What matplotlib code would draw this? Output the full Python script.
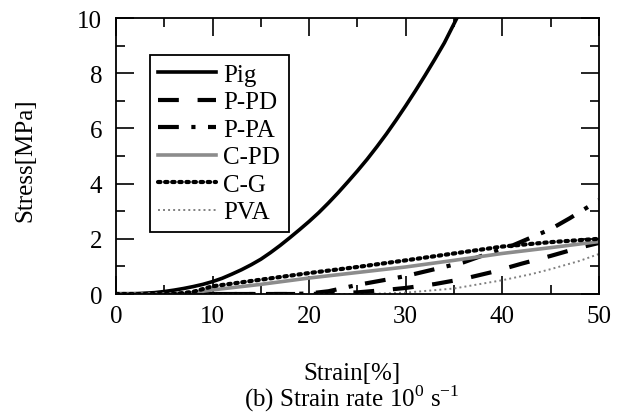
import matplotlib
matplotlib.use("Agg")
import matplotlib.pyplot as plt
from matplotlib.ticker import MultipleLocator

plt.rcParams['font.family'] = ['Liberation Serif', 'DejaVu Serif']
plt.rcParams['mathtext.fontset'] = 'custom'
plt.rcParams['mathtext.rm'] = 'Liberation Serif'

# values (strain %, stress MPa)
pig_x = [0, 2, 4, 5, 6, 7, 8, 9, 10, 11, 12, 13, 14, 15, 16, 17, 18, 19, 20,
         21, 22, 23, 24, 25, 26, 27, 28, 29, 30, 31, 32, 33, 34, 35.3]
pig_y = [0, 0.01, 0.05, 0.09, 0.14, 0.2, 0.27, 0.35, 0.45, 0.57, 0.72, 0.88, 1.06,
         1.26, 1.5, 1.76, 2.04, 2.33, 2.63, 2.95, 3.3, 3.67, 4.06, 4.46, 4.88, 5.33,
         5.8, 6.3, 6.82, 7.36, 7.92, 8.5, 9.1, 10.0]

ppd_x = [0, 20, 22, 25, 28, 30, 33, 36, 39, 42, 45, 48, 50]
ppd_y = [0, 0.0, 0.02, 0.06, 0.15, 0.22, 0.36, 0.55, 0.8, 1.1, 1.38, 1.68, 1.85]

ppa_x = [0, 18, 20, 22, 25, 28, 30, 33, 36, 38, 41, 43, 45, 47, 50]
ppa_y = [0, 0.0, 0.02, 0.1, 0.33, 0.52, 0.65, 0.9, 1.15, 1.4, 1.75, 2.05, 2.35, 2.75, 3.4]

cpd_x = [0, 7, 10, 15, 20, 25, 30, 35, 40, 45, 50]
cpd_y = [0, 0.0, 0.15, 0.35, 0.58, 0.78, 0.98, 1.22, 1.47, 1.68, 1.9]

cg_x = [0, 6, 8, 10, 15, 20, 25, 30, 35, 40, 45, 50]
cg_y = [0, 0.0, 0.08, 0.28, 0.52, 0.76, 0.98, 1.22, 1.47, 1.72, 1.88, 2.0]

pva_x = [0, 26, 30, 35, 38, 40, 43, 45, 48, 50]
pva_y = [0, 0.0, 0.05, 0.2, 0.38, 0.5, 0.72, 0.9, 1.2, 1.45]

fig = plt.figure(figsize=(6.2, 4.14), dpi=100)
ax = fig.add_axes([0.187, 0.2874, 0.779, 0.6667])

ax.plot(pig_x, pig_y, color='black', lw=2.6, label='Pig')
ax.plot(ppd_x, ppd_y, color='black', lw=3.0, linestyle=(0, (5, 4.5)), label='P-PD')
ax.plot(ppa_x, ppa_y, color='black', lw=3.0, linestyle=(0, (5, 3, 1, 3)), label='P-PA')
ax.plot(cpd_x, cpd_y, color='0.55', lw=2.6, label='C-PD')
ax.plot(cg_x, cg_y, color='black', lw=3.0, linestyle=(0, (0.6, 1.1)),
        dash_capstyle='round', label='C-G')
ax.plot(pva_x, pva_y, color='0.5', lw=1.4, linestyle=(0, (1, 1.6)), label='PVA')

ax.set_xlim(0, 50)
ax.set_ylim(0, 10)
ax.xaxis.set_major_locator(MultipleLocator(10))
ax.xaxis.set_minor_locator(MultipleLocator(5))
ax.yaxis.set_major_locator(MultipleLocator(2))
ax.yaxis.set_minor_locator(MultipleLocator(1))
ax.tick_params(which='both', direction='in', top=True, right=True, width=1.2,
               labelsize=18)
ax.tick_params(which='major', length=13)
ax.tick_params(which='minor', length=6.5)
ax.tick_params(axis='x', which='major', pad=8)
ax.tick_params(axis='y', which='major', pad=10)
for s in ax.spines.values():
    s.set_linewidth(1.3)

fig.text(25 / 620, 1 - 160 / 414, 'Stress[MPa]', fontsize=18, rotation=90,
         ha='center', va='center')
fig.text(352 / 620, 1 - 374 / 414, 'Strain[%]', fontsize=18, ha='center', va='center')
fig.text(352 / 620, 1 - 399 / 414, '(b) Strain rate 10$^{0}$ s$^{-1}$', fontsize=18,
         ha='center', va='center')

leg = ax.legend(loc='upper left', bbox_to_anchor=(0.07, 0.867), fontsize=18,
                handlelength=2.3, handletextpad=0.3, labelspacing=0.2,
                borderpad=0.35, borderaxespad=0, fancybox=False, framealpha=1)
leg.get_frame().set_edgecolor('black')
leg.get_frame().set_linewidth(1.3)

fig.savefig('out.png', dpi=100)
